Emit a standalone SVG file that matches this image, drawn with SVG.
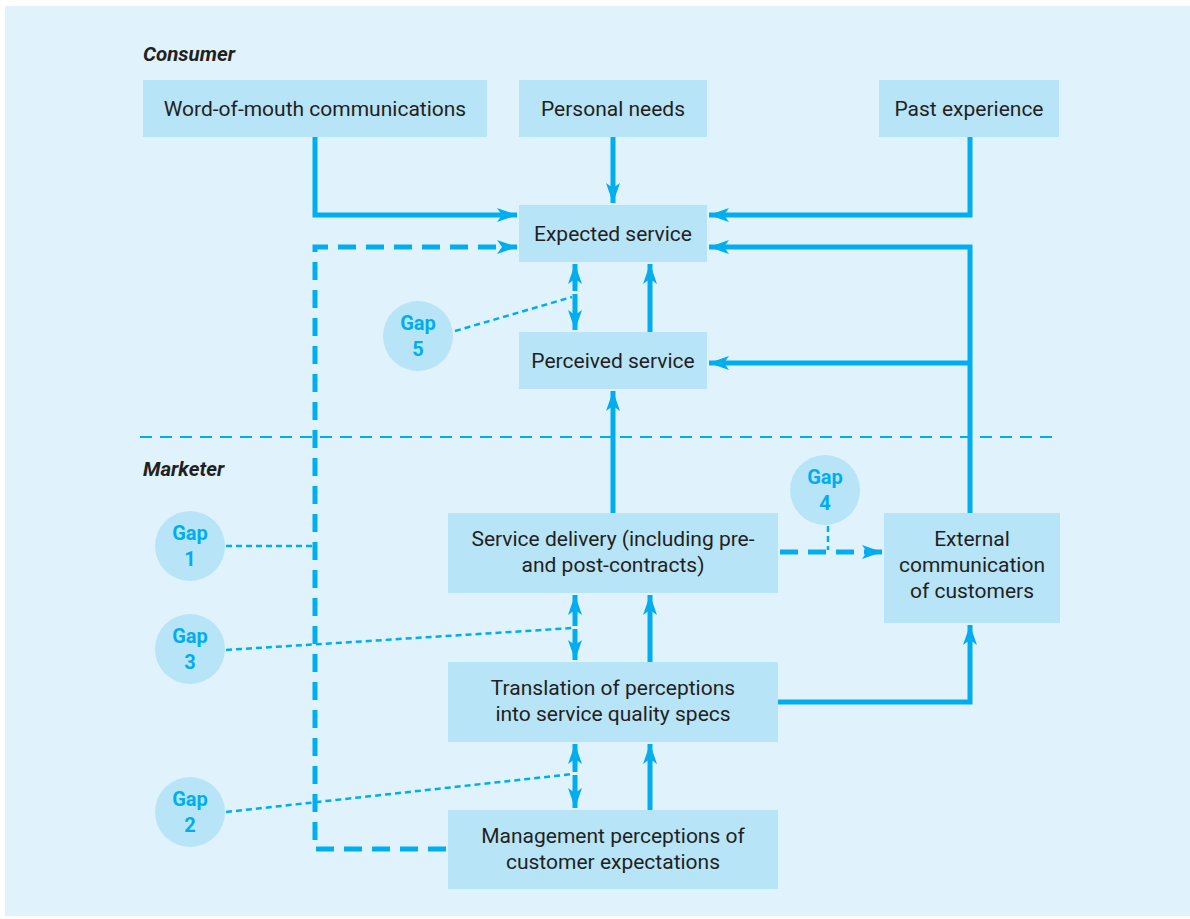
<svg xmlns="http://www.w3.org/2000/svg" width="1190" height="919" viewBox="0 0 1190 919">
  <style>
    .box { fill: #b8e4f8; }
    .gapc { fill: #b8e4f8; }
    .lbl { font-family: Roboto, "Liberation Sans", sans-serif; font-size: 21px; fill: #231f20; text-anchor: middle; }
    .sec { font-family: Roboto, "Liberation Sans", sans-serif; font-size: 20.5px; font-weight: bold; font-style: italic; fill: #231f20; }
    .gapt { font-family: Roboto, "Liberation Sans", sans-serif; font-size: 20px; font-weight: bold; fill: #00aeef; text-anchor: middle; }
    .solid { fill: none; stroke: #00aeef; stroke-width: 5; }
    .dash { fill: none; stroke: #00aeef; stroke-width: 5; stroke-dasharray: 18 10; }
    .dot { fill: none; stroke: #00aeef; stroke-width: 2.5; stroke-dasharray: 6 4; }
    .divider { fill: none; stroke: #00aeef; stroke-width: 2; stroke-dasharray: 12 8; }
  </style>
  <defs>
    <marker id="ah" markerUnits="userSpaceOnUse" markerWidth="22" markerHeight="14" refX="20" refY="7" orient="auto">
      <path d="M0,0 L20,7 L0,14 L5,7 Z" fill="#00aeef"/>
    </marker>
  </defs>

  <!-- panel -->
  <rect x="5" y="6" width="1185" height="910" fill="#e0f2fc"/>

  <!-- section labels -->
  <text class="sec" x="143" y="61">Consumer</text>
  <text class="sec" x="143" y="476">Marketer</text>
  <line class="divider" x1="140" y1="437" x2="1052" y2="437"/>

  <!-- connectors -->
  <g id="connectors">
    <path class="solid" d="M315,137 V215 H517" marker-end="url(#ah)"/>
    <path class="solid" d="M613,137 V203" marker-end="url(#ah)"/>
    <path class="solid" d="M970,137 V215 H709" marker-end="url(#ah)"/>
    <path class="solid" d="M970,513 V247 H709" marker-end="url(#ah)"/>
    <path class="solid" d="M970,363 H709" marker-end="url(#ah)"/>
    <path class="solid" d="M650,332 V264" marker-end="url(#ah)"/>
    <path class="solid" d="M575,291 V264" marker-end="url(#ah)"/>
    <path class="solid" d="M575,294 V330" marker-end="url(#ah)"/>
    <path class="solid" d="M613,513 V391" marker-end="url(#ah)"/>
    <path class="solid" d="M650,662 V595" marker-end="url(#ah)"/>
    <path class="solid" d="M575,626 V595" marker-end="url(#ah)"/>
    <path class="solid" d="M575,629 V660" marker-end="url(#ah)"/>
    <path class="solid" d="M650,810 V744" marker-end="url(#ah)"/>
    <path class="solid" d="M575,772 V744" marker-end="url(#ah)"/>
    <path class="solid" d="M575,775 V808" marker-end="url(#ah)"/>
    <path class="solid" d="M778,702 H970 V625" marker-end="url(#ah)"/>
    <path class="dash" d="M780,552 H882" marker-end="url(#ah)"/>
    <path class="dash" d="M446,849 H315 V247 H517" marker-end="url(#ah)"/>
    <!-- gap pointers -->
    <path class="dot" d="M455,331 L572,297"/>
    <path class="dot" d="M226,546 H313"/>
    <path class="dot" d="M226,650 L573,628"/>
    <path class="dot" d="M226,812 L573,774"/>
    <path class="dot" d="M828,526 V550"/>
  </g>

  <!-- nodes -->
  <g id="word-of-mouth">
    <rect class="box" x="143" y="80" width="344" height="57"/>
    <text class="lbl" x="315" y="116">Word-of-mouth communications</text>
  </g>
  <g id="personal-needs">
    <rect class="box" x="519" y="80" width="188" height="57"/>
    <text class="lbl" x="613" y="116">Personal needs</text>
  </g>
  <g id="past-experience">
    <rect class="box" x="879" y="80" width="180" height="57"/>
    <text class="lbl" x="969" y="116">Past experience</text>
  </g>
  <g id="expected-service">
    <rect class="box" x="519" y="205" width="188" height="57"/>
    <text class="lbl" x="613" y="241">Expected service</text>
  </g>
  <g id="perceived-service">
    <rect class="box" x="519" y="332" width="188" height="57"/>
    <text class="lbl" x="613" y="368">Perceived service</text>
  </g>
  <g id="service-delivery">
    <rect class="box" x="448" y="513" width="330" height="80"/>
    <text class="lbl" x="613" y="546">Service delivery (including pre-</text>
    <text class="lbl" x="613" y="572">and post-contracts)</text>
  </g>
  <g id="translation">
    <rect class="box" x="448" y="662" width="330" height="80"/>
    <text class="lbl" x="613" y="695">Translation of perceptions</text>
    <text class="lbl" x="613" y="721">into service quality specs</text>
  </g>
  <g id="management">
    <rect class="box" x="448" y="810" width="330" height="79"/>
    <text class="lbl" x="613" y="843">Management perceptions of</text>
    <text class="lbl" x="613" y="869">customer expectations</text>
  </g>
  <g id="external-communication">
    <rect class="box" x="884" y="513" width="176" height="110"/>
    <text class="lbl" x="972" y="546">External</text>
    <text class="lbl" x="972" y="572">communication</text>
    <text class="lbl" x="972" y="598">of customers</text>
  </g>

  <g id="gap5">
    <circle class="gapc" cx="418" cy="336" r="35"/>
    <text class="gapt" x="418" y="330">Gap</text>
    <text class="gapt" x="418" y="356">5</text>
  </g>
  <g id="gap4">
    <circle class="gapc" cx="825" cy="490" r="35"/>
    <text class="gapt" x="825" y="484">Gap</text>
    <text class="gapt" x="825" y="510">4</text>
  </g>
  <g id="gap1">
    <circle class="gapc" cx="190" cy="546" r="35"/>
    <text class="gapt" x="190" y="540">Gap</text>
    <text class="gapt" x="190" y="566">1</text>
  </g>
  <g id="gap3">
    <circle class="gapc" cx="190" cy="649" r="35"/>
    <text class="gapt" x="190" y="643">Gap</text>
    <text class="gapt" x="190" y="669">3</text>
  </g>
  <g id="gap2">
    <circle class="gapc" cx="190" cy="812" r="35"/>
    <text class="gapt" x="190" y="806">Gap</text>
    <text class="gapt" x="190" y="832">2</text>
  </g>
</svg>
